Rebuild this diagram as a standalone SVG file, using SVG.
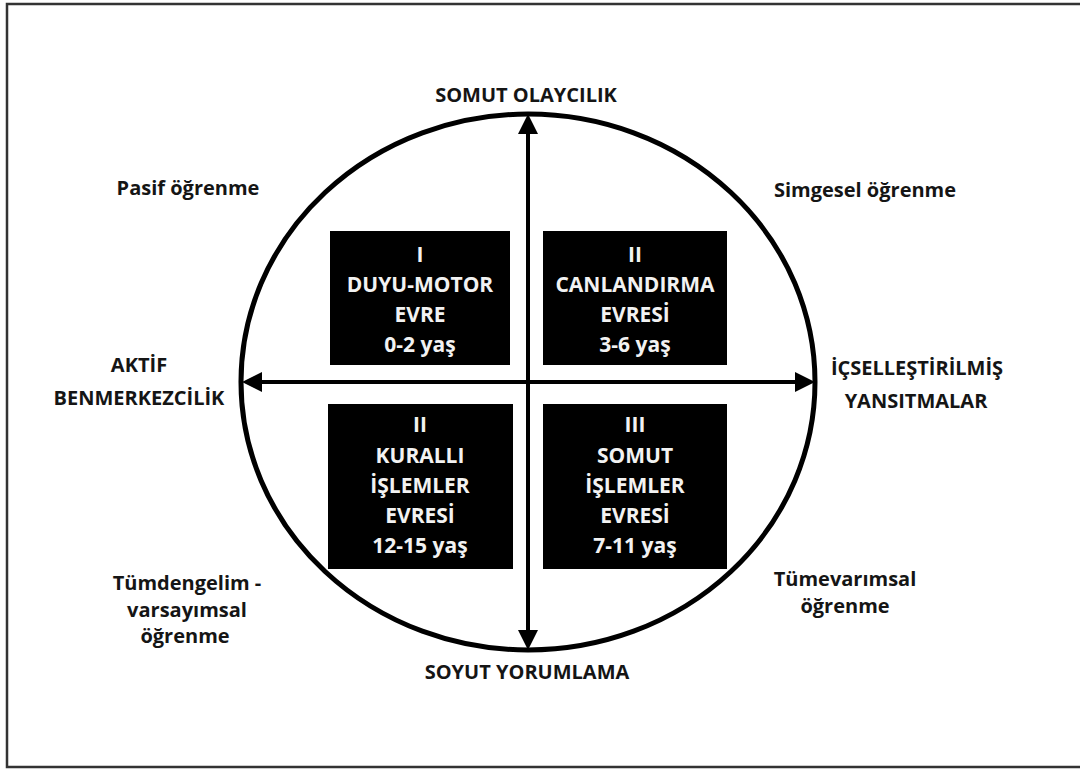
<svg xmlns="http://www.w3.org/2000/svg" width="1080" height="770" viewBox="0 0 1080 770">
<style>
  .lbl { font-family: "Open Sans", "Liberation Sans", sans-serif; font-weight: bold; font-size: 20px; fill: #151515; text-anchor: middle; }
  .bx { fill: #000; }
  .bt { font-family: "Open Sans", "Liberation Sans", sans-serif; font-weight: bold; font-size: 21px; fill: #f2f2f2; text-anchor: middle; }
  .ax { stroke: #000; stroke-width: 4; fill: none; }
</style>
<defs>
  <marker id="ah" viewBox="0 0 20 20" refX="10" refY="10" markerWidth="20" markerHeight="20" markerUnits="userSpaceOnUse" orient="auto-start-reverse">
    <path d="M0,0 L20,10 L0,20 z" fill="#000"/>
  </marker>
</defs>
<rect x="0" y="0" width="1080" height="770" fill="#fff"/>
<rect id="frame" x="7" y="4" width="1090" height="763" fill="none" stroke="#333" stroke-width="2.5"/>
<ellipse id="circle" cx="528" cy="382" rx="287" ry="268" fill="none" stroke="#000" stroke-width="5"/>
<g id="connectors">
  <line class="ax" x1="528" y1="124" x2="528" y2="640" marker-start="url(#ah)" marker-end="url(#ah)"/>
  <line class="ax" x1="252" y1="382" x2="805" y2="382" marker-start="url(#ah)" marker-end="url(#ah)"/>
</g>
<g id="box1">
  <rect class="bx" x="330" y="231" width="180" height="134"/>
  <text class="bt" x="420" y="262">I</text>
  <text class="bt" x="420" y="292">DUYU-MOTOR</text>
  <text class="bt" x="420" y="322">EVRE</text>
  <text class="bt" x="420" y="352">0-2 yaş</text>
</g>
<g id="box2">
  <rect class="bx" x="543" y="231" width="184" height="134"/>
  <text class="bt" x="635" y="262">II</text>
  <text class="bt" x="635" y="292">CANLANDIRMA</text>
  <text class="bt" x="635" y="322">EVRESİ</text>
  <text class="bt" x="635" y="352">3-6 yaş</text>
</g>
<g id="box3">
  <rect class="bx" x="328" y="404" width="185" height="165"/>
  <text class="bt" x="420" y="432">II</text>
  <text class="bt" x="420" y="463">KURALLI</text>
  <text class="bt" x="420" y="493">İŞLEMLER</text>
  <text class="bt" x="420" y="523">EVRESİ</text>
  <text class="bt" x="420" y="553">12-15 yaş</text>
</g>
<g id="box4">
  <rect class="bx" x="543" y="404" width="184" height="165"/>
  <text class="bt" x="635" y="432">III</text>
  <text class="bt" x="635" y="463">SOMUT</text>
  <text class="bt" x="635" y="493">İŞLEMLER</text>
  <text class="bt" x="635" y="523">EVRESİ</text>
  <text class="bt" x="635" y="553">7-11 yaş</text>
</g>
<g id="top"><text class="lbl" x="526" y="102">SOMUT OLAYCILIK</text></g>
<g id="bottom"><text class="lbl" x="527" y="679">SOYUT YORUMLAMA</text></g>
<g id="left">
  <text class="lbl" x="139" y="372">AKTİF</text>
  <text class="lbl" x="139" y="405">BENMERKEZCİLİK</text>
</g>
<g id="right">
  <text class="lbl" x="917" y="375">İÇSELLEŞTİRİLMİŞ</text>
  <text class="lbl" x="916" y="408">YANSITMALAR</text>
</g>
<g id="tl"><text class="lbl" x="188" y="195">Pasif öğrenme</text></g>
<g id="tr"><text class="lbl" x="865" y="197">Simgesel öğrenme</text></g>
<g id="bl">
  <text class="lbl" x="187" y="590">Tümdengelim -</text>
  <text class="lbl" x="187" y="617">varsayımsal</text>
  <text class="lbl" x="185" y="643">öğrenme</text>
</g>
<g id="br">
  <text class="lbl" x="845" y="586">Tümevarımsal</text>
  <text class="lbl" x="845" y="613">öğrenme</text>
</g>
</svg>
